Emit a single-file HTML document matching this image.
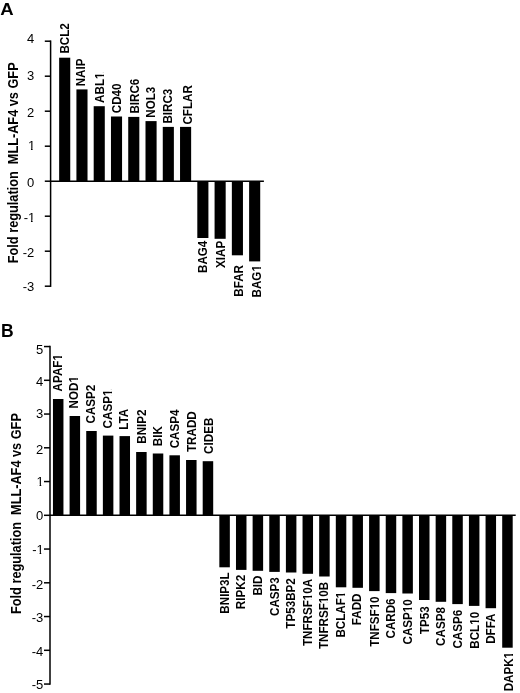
<!DOCTYPE html>
<html><head><meta charset="utf-8"><style>
html,body{margin:0;padding:0;background:#fff;}
svg{display:block;will-change:transform;filter:blur(0.3px);}
line{stroke:#000;stroke-width:1.5;}
rect.b{fill:#000;}
text{font-family:"Liberation Sans", sans-serif;fill:#000;}
.tk{font-size:13px;text-anchor:end;}
.bl{font-size:12.0px;font-weight:bold;}
.tt{font-size:14px;font-weight:bold;white-space:pre;}
.pl{font-size:17.5px;font-weight:bold;}
</style></head><body>
<svg width="520" height="693" viewBox="0 0 520 693" xml:space="preserve">
<rect x="0" y="0" width="520" height="693" fill="#fff"/>
<line x1="50.6" y1="40.45" x2="50.6" y2="286.95" />
<line x1="44.8" y1="286.20" x2="50.6" y2="286.20" />
<text class="tk" x="34.20" y="291.00">-3</text>
<line x1="44.8" y1="251.20" x2="50.6" y2="251.20" />
<text class="tk" x="34.20" y="257.25">-2</text>
<line x1="44.8" y1="216.20" x2="50.6" y2="216.20" />
<text class="tk" x="35.20" y="221.70">-1</text>
<line x1="44.8" y1="181.20" x2="50.6" y2="181.20" />
<text class="tk" x="34.20" y="187.35">0</text>
<line x1="44.8" y1="146.20" x2="50.6" y2="146.20" />
<text class="tk" x="35.20" y="150.45">1</text>
<line x1="44.8" y1="111.20" x2="50.6" y2="111.20" />
<text class="tk" x="34.20" y="116.85">2</text>
<line x1="44.8" y1="76.20" x2="50.6" y2="76.20" />
<text class="tk" x="34.20" y="80.05">3</text>
<line x1="44.8" y1="41.20" x2="50.6" y2="41.20" />
<text class="tk" x="34.20" y="43.15">4</text>
<line x1="50.6" y1="181.2" x2="263.9" y2="181.2" />
<rect class="b" x="59.15" y="57.70" width="11.1" height="123.50" />
<text class="bl" transform="translate(68.80,53.55) rotate(-90) scale(0.97,1)">BCL2</text>
<rect class="b" x="76.42" y="89.40" width="11.1" height="91.80" />
<text class="bl" transform="translate(85.44,86.30) rotate(-90) scale(0.97,1)">NAIP</text>
<rect class="b" x="93.69" y="106.20" width="11.1" height="75.00" />
<text class="bl" transform="translate(104.18,102.90) rotate(-90) scale(0.97,1)">ABL1</text>
<rect class="b" x="110.96" y="116.50" width="11.1" height="64.70" />
<text class="bl" transform="translate(121.42,113.20) rotate(-90) scale(0.97,1)">CD40</text>
<rect class="b" x="128.23" y="116.90" width="11.1" height="64.30" />
<text class="bl" transform="translate(138.81,113.60) rotate(-90) scale(0.97,1)">BIRC6</text>
<rect class="b" x="145.50" y="121.10" width="11.1" height="60.10" />
<text class="bl" transform="translate(154.75,117.70) rotate(-90) scale(0.97,1)">NOL3</text>
<rect class="b" x="162.77" y="126.90" width="11.1" height="54.30" />
<text class="bl" transform="translate(172.29,123.60) rotate(-90) scale(0.97,1)">BIRC3</text>
<rect class="b" x="180.04" y="126.90" width="11.1" height="54.30" />
<text class="bl" transform="translate(191.98,124.60) rotate(-90) scale(0.97,1)">CFLAR</text>
<rect class="b" x="197.31" y="181.20" width="11.1" height="56.80" />
<text class="bl" text-anchor="end" transform="translate(207.47,240.70) rotate(-90) scale(0.97,1)">BAG4</text>
<rect class="b" x="214.58" y="181.20" width="11.1" height="57.60" />
<text class="bl" text-anchor="end" transform="translate(225.11,240.80) rotate(-90) scale(0.97,1)">XIAP</text>
<rect class="b" x="231.85" y="181.20" width="11.1" height="74.10" />
<text class="bl" text-anchor="end" transform="translate(243.40,265.00) rotate(-90) scale(0.97,1)">BFAR</text>
<rect class="b" x="249.12" y="181.20" width="11.1" height="80.20" />
<text class="bl" text-anchor="end" transform="translate(261.34,265.10) rotate(-90) scale(0.97,1)">BAG1</text>
<text class="tt" text-anchor="middle" transform="translate(17.7,162.80) rotate(-90) scale(0.91,1)">Fold regulation  MLL-AF4 vs GFP</text>
<text class="pl" transform="translate(0.2,14.7) scale(1.06,0.98)">A</text>
<line x1="50.0" y1="345.80" x2="50.0" y2="684.80" />
<line x1="44.0" y1="684.05" x2="50.0" y2="684.05" />
<text class="tk" x="43.20" y="689.40">-5</text>
<line x1="44.0" y1="650.30" x2="50.0" y2="650.30" />
<text class="tk" x="43.20" y="656.00">-4</text>
<line x1="44.0" y1="616.55" x2="50.0" y2="616.55" />
<text class="tk" x="43.20" y="622.30">-3</text>
<line x1="44.0" y1="582.80" x2="50.0" y2="582.80" />
<text class="tk" x="43.20" y="588.90">-2</text>
<line x1="44.0" y1="549.05" x2="50.0" y2="549.05" />
<text class="tk" x="43.80" y="553.80">-1</text>
<line x1="44.0" y1="515.30" x2="50.0" y2="515.30" />
<text class="tk" x="43.20" y="520.30">0</text>
<line x1="44.0" y1="481.55" x2="50.0" y2="481.55" />
<text class="tk" x="43.80" y="486.40">1</text>
<line x1="44.0" y1="447.80" x2="50.0" y2="447.80" />
<text class="tk" x="43.20" y="453.90">2</text>
<line x1="44.0" y1="414.05" x2="50.0" y2="414.05" />
<text class="tk" x="43.20" y="417.90">3</text>
<line x1="44.0" y1="380.30" x2="50.0" y2="380.30" />
<text class="tk" x="43.20" y="386.10">4</text>
<line x1="44.0" y1="346.55" x2="50.0" y2="346.55" />
<text class="tk" x="43.20" y="354.00">5</text>
<line x1="50.0" y1="515.3" x2="515.7" y2="515.3" />
<rect class="b" x="52.95" y="399.00" width="10.5" height="116.30" />
<text class="bl" transform="translate(62.05,391.40) rotate(-90) scale(0.97,1)">APAF1</text>
<rect class="b" x="69.59" y="416.00" width="10.5" height="99.30" />
<text class="bl" transform="translate(78.40,408.40) rotate(-90) scale(0.97,1)">NOD1</text>
<rect class="b" x="86.23" y="431.00" width="10.5" height="84.30" />
<text class="bl" transform="translate(95.20,423.50) rotate(-90) scale(0.97,1)">CASP2</text>
<rect class="b" x="102.87" y="435.60" width="10.5" height="79.70" />
<text class="bl" transform="translate(112.00,428.40) rotate(-90) scale(0.97,1)">CASP1</text>
<rect class="b" x="119.51" y="436.10" width="10.5" height="79.20" />
<text class="bl" transform="translate(128.20,429.70) rotate(-90) scale(0.97,1)">LTA</text>
<rect class="b" x="136.14" y="452.00" width="10.5" height="63.30" />
<text class="bl" transform="translate(145.65,443.70) rotate(-90) scale(0.97,1)">BNIP2</text>
<rect class="b" x="152.78" y="453.50" width="10.5" height="61.80" />
<text class="bl" transform="translate(161.80,446.20) rotate(-90) scale(0.97,1)">BIK</text>
<rect class="b" x="169.42" y="455.30" width="10.5" height="60.00" />
<text class="bl" transform="translate(179.15,448.30) rotate(-90) scale(0.97,1)">CASP4</text>
<rect class="b" x="186.06" y="460.00" width="10.5" height="55.30" />
<text class="bl" transform="translate(195.75,452.00) rotate(-90) scale(0.97,1)">TRADD</text>
<rect class="b" x="202.70" y="461.20" width="10.5" height="54.10" />
<text class="bl" transform="translate(212.75,453.90) rotate(-90) scale(0.97,1)">CIDEB</text>
<rect class="b" x="219.34" y="515.30" width="10.5" height="52.00" />
<text class="bl" text-anchor="end" transform="translate(229.10,572.30) rotate(-90) scale(0.97,1)">BNIP3L</text>
<rect class="b" x="235.98" y="515.30" width="10.5" height="54.60" />
<text class="bl" text-anchor="end" transform="translate(245.05,574.90) rotate(-90) scale(0.97,1)">RIPK2</text>
<rect class="b" x="252.62" y="515.30" width="10.5" height="55.50" />
<text class="bl" text-anchor="end" transform="translate(261.70,575.50) rotate(-90) scale(0.97,1)">BID</text>
<rect class="b" x="269.26" y="515.30" width="10.5" height="56.60" />
<text class="bl" text-anchor="end" transform="translate(278.65,577.20) rotate(-90) scale(0.97,1)">CASP3</text>
<rect class="b" x="285.90" y="515.30" width="10.5" height="57.20" />
<text class="bl" text-anchor="end" transform="translate(295.00,578.20) rotate(-90) scale(0.97,1)">TP53BP2</text>
<rect class="b" x="302.53" y="515.30" width="10.5" height="58.50" />
<text class="bl" text-anchor="end" transform="translate(311.80,578.80) rotate(-90) scale(0.97,1)">TNFRSF10A</text>
<rect class="b" x="319.17" y="515.30" width="10.5" height="61.20" />
<text class="bl" text-anchor="end" transform="translate(328.45,581.80) rotate(-90) scale(0.97,1)">TNFRSF10B</text>
<rect class="b" x="335.81" y="515.30" width="10.5" height="72.00" />
<text class="bl" text-anchor="end" transform="translate(345.15,591.70) rotate(-90) scale(0.97,1)">BCLAF1</text>
<rect class="b" x="352.45" y="515.30" width="10.5" height="72.50" />
<text class="bl" text-anchor="end" transform="translate(361.15,593.50) rotate(-90) scale(0.97,1)">FADD</text>
<rect class="b" x="369.09" y="515.30" width="10.5" height="75.80" />
<text class="bl" text-anchor="end" transform="translate(378.75,596.40) rotate(-90) scale(0.97,1)">TNFSF10</text>
<rect class="b" x="385.73" y="515.30" width="10.5" height="77.80" />
<text class="bl" text-anchor="end" transform="translate(394.90,598.40) rotate(-90) scale(0.97,1)">CARD6</text>
<rect class="b" x="402.37" y="515.30" width="10.5" height="78.20" />
<text class="bl" text-anchor="end" transform="translate(411.55,599.20) rotate(-90) scale(0.97,1)">CASP10</text>
<rect class="b" x="419.01" y="515.30" width="10.5" height="84.70" />
<text class="bl" text-anchor="end" transform="translate(428.55,606.40) rotate(-90) scale(0.97,1)">TP53</text>
<rect class="b" x="435.65" y="515.30" width="10.5" height="86.50" />
<text class="bl" text-anchor="end" transform="translate(444.85,607.10) rotate(-90) scale(0.97,1)">CASP8</text>
<rect class="b" x="452.29" y="515.30" width="10.5" height="88.80" />
<text class="bl" text-anchor="end" transform="translate(461.85,609.80) rotate(-90) scale(0.97,1)">CASP6</text>
<rect class="b" x="468.92" y="515.30" width="10.5" height="90.60" />
<text class="bl" text-anchor="end" transform="translate(478.65,611.90) rotate(-90) scale(0.97,1)">BCL10</text>
<rect class="b" x="485.56" y="515.30" width="10.5" height="92.90" />
<text class="bl" text-anchor="end" transform="translate(494.80,613.50) rotate(-90) scale(0.97,1)">DFFA</text>
<rect class="b" x="502.20" y="515.30" width="10.5" height="132.40" />
<text class="bl" text-anchor="end" transform="translate(512.70,651.90) rotate(-90) scale(0.97,1)">DAPK1</text>
<text class="tt" text-anchor="middle" transform="translate(21.3,513.55) rotate(-90) scale(0.91,1)">Fold regulation  MLL-AF4 vs GFP</text>
<text class="pl" transform="translate(1.0,336.8) scale(1,1)">B</text>
<path fill="#fff" d="M28.51 219.63H30.98V222.30H28.51ZM32.63 219.63H35.01V222.30H32.63Z"/>
<path fill="#fff" d="M28.51 148.38H30.98V151.05H28.51ZM32.63 148.38H35.01V151.05H32.63Z"/>
<path fill="#fff" transform="translate(104.18,102.90) rotate(-90) scale(0.97,1)" d="M24.94 -2.32H27.43V0.60H24.94ZM29.08 -2.32H31.42V0.60H29.08Z"/>
<path fill="#fff" transform="translate(261.34,265.10) rotate(-90) scale(0.97,1)" d="M-6.39 -2.32H-3.89V0.60H-6.39ZM-2.25 -2.32H0.10V0.60H-2.25Z"/>
<path fill="#fff" d="M37.11 551.73H39.58V554.40H37.11ZM41.23 551.73H43.61V554.40H41.23Z"/>
<path fill="#fff" d="M37.11 484.33H39.58V487.00H37.11ZM41.23 484.33H43.61V487.00H41.23Z"/>
<path fill="#fff" transform="translate(62.05,391.40) rotate(-90) scale(0.97,1)" d="M32.04 -2.32H34.54V0.60H32.04ZM36.19 -2.32H38.53V0.60H36.19Z"/>
<path fill="#fff" transform="translate(78.40,408.40) rotate(-90) scale(0.97,1)" d="M26.94 -2.32H29.43V0.60H26.94ZM31.08 -2.32H33.42V0.60H31.08Z"/>
<path fill="#fff" transform="translate(112.00,428.40) rotate(-90) scale(0.97,1)" d="M33.61 -2.32H36.11V0.60H33.61ZM37.76 -2.32H40.10V0.60H37.76Z"/>
<path fill="#fff" transform="translate(311.80,578.80) rotate(-90) scale(0.97,1)" d="M-21.71 -2.32H-19.21V0.60H-21.71ZM-17.57 -2.32H-15.23V0.60H-17.57Z"/>
<path fill="#fff" transform="translate(328.45,581.80) rotate(-90) scale(0.97,1)" d="M-21.71 -2.32H-19.21V0.60H-21.71ZM-17.57 -2.32H-15.23V0.60H-17.57Z"/>
<path fill="#fff" transform="translate(345.15,591.70) rotate(-90) scale(0.97,1)" d="M-6.37 -2.32H-3.88V0.60H-6.37ZM-2.23 -2.32H0.11V0.60H-2.23Z"/>
<path fill="#fff" transform="translate(378.75,596.40) rotate(-90) scale(0.97,1)" d="M-13.05 -2.32H-10.55V0.60H-13.05ZM-8.91 -2.32H-6.57V0.60H-8.91Z"/>
<path fill="#fff" transform="translate(411.55,599.20) rotate(-90) scale(0.97,1)" d="M-13.05 -2.32H-10.55V0.60H-13.05ZM-8.91 -2.32H-6.57V0.60H-8.91Z"/>
<path fill="#fff" transform="translate(478.65,611.90) rotate(-90) scale(0.97,1)" d="M-13.05 -2.32H-10.55V0.60H-13.05ZM-8.91 -2.32H-6.57V0.60H-8.91Z"/>
<path fill="#fff" transform="translate(512.70,651.90) rotate(-90) scale(0.97,1)" d="M-6.37 -2.32H-3.88V0.60H-6.37ZM-2.23 -2.32H0.11V0.60H-2.23Z"/>
</svg>
</body></html>
